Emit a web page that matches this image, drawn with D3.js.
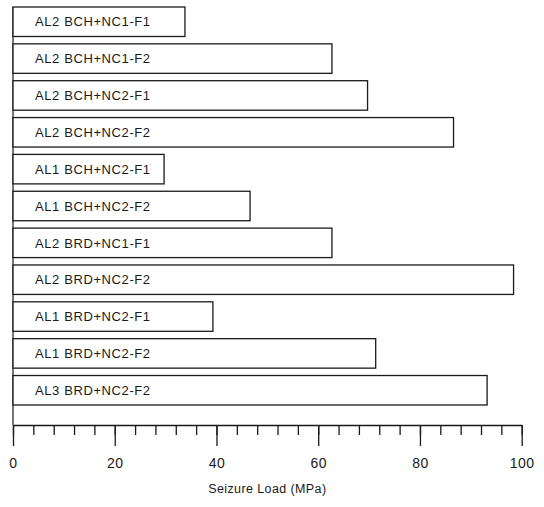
<!DOCTYPE html>
<html>
<head>
<meta charset="utf-8">
<script src="https://cdn.jsdelivr.net/npm/d3@7"></script>
<style>
  body { margin: 0; background: #fff; }
  svg { display: block; }
</style>
</head>
<body>
<div id="plot"></div>
<script>
// chart data
var categories = [
    "AL2 BCH+NC1-F1",
    "AL2 BCH+NC1-F2",
    "AL2 BCH+NC2-F1",
    "AL2 BCH+NC2-F2",
    "AL1 BCH+NC2-F1",
    "AL1 BCH+NC2-F2",
    "AL2 BRD+NC1-F1",
    "AL2 BRD+NC2-F2",
    "AL1 BRD+NC2-F1",
    "AL1 BRD+NC2-F2",
    "AL3 BRD+NC2-F2"
];
var seizure_load = [33.8, 62.7, 69.7, 86.6, 29.7, 46.6, 62.7, 98.4, 39.3, 71.3, 93.2];
var major_ticks = [0, 20, 40, 60, 80, 100];
var minor_ticks = d3.range(0, 101, 4);
var x_title = "Seizure Load (MPa)";

const total_width = 544
const total_height = 507
const ink = "#1a1a1a"
const font = "'Liberation Sans', Arial, sans-serif"

// plot frame (note: "top" is taken by window.top, so use other names)
const plot_left = 13, plot_right = 521.7, plot_top = 7, bars_bottom = 405, axis_y = 425;

var svg = d3.select("#plot").append("svg").attr("width", total_width).attr("height", total_height);

var x = d3.scaleLinear().domain([0, 100]).range([plot_left, plot_right]);
var y = d3.scaleBand().domain(categories).range([plot_top, bars_bottom]).paddingInner(0.2).paddingOuter(0);

// left frame line
svg.append("line").attr("x1", plot_left).attr("x2", plot_left).attr("y1", plot_top).attr("y2", axis_y)
    .attr("stroke", ink).attr("stroke-width", 1.2);

// bars
var bars = svg.append("g");
bars.selectAll("rect").data(categories).enter().append("rect")
    .attr("x", x(0))
    .attr("y", function(d) {return y(d)})
    .attr("width", function(d, i) {return x(seizure_load[i]) - x(0)})
    .attr("height", y.bandwidth())
    .attr("fill", "#fff")
    .attr("stroke", ink)
    .attr("stroke-width", 1.3);

bars.selectAll("text").data(categories).enter().append("text")
    .attr("x", x(0) + 22)
    .attr("y", function(d) {return y(d) + y.bandwidth() / 2})
    .attr("dy", "0.36em")
    .attr("font-family", font)
    .attr("font-size", 13)
    .attr("letter-spacing", 0.6)
    .attr("fill", ink)
    .text(function(d) {return d});

// x axis: minor ticks
var minorAxis = d3.axisBottom(x).tickValues(minor_ticks).tickSize(10).tickSizeOuter(0).tickFormat("");
var g_minor = svg.append("g").attr("transform", "translate(0," + axis_y + ")").call(minorAxis);

// x axis: major ticks with labels
var majorAxis = d3.axisBottom(x).tickValues(major_ticks).tickSize(21).tickSizeOuter(0).tickPadding(12).tickFormat(d3.format("d"));
var g_major = svg.append("g").attr("transform", "translate(0," + axis_y + ")").call(majorAxis);
g_major.select(".domain").remove();

svg.selectAll(".tick line, .domain").attr("stroke", ink).attr("stroke-width", 1.3);
g_major.selectAll("text").attr("font-family", font).attr("font-size", 14).attr("fill", ink).attr("letter-spacing", 0.5);

svg.append("text")
    .attr("x", (x(0) + x(100)) / 2)
    .attr("y", 493)
    .attr("text-anchor", "middle")
    .attr("font-family", font)
    .attr("font-size", 12.5)
    .attr("letter-spacing", 0.4)
    .attr("fill", ink)
    .text(x_title);
</script>
</body>
</html>
